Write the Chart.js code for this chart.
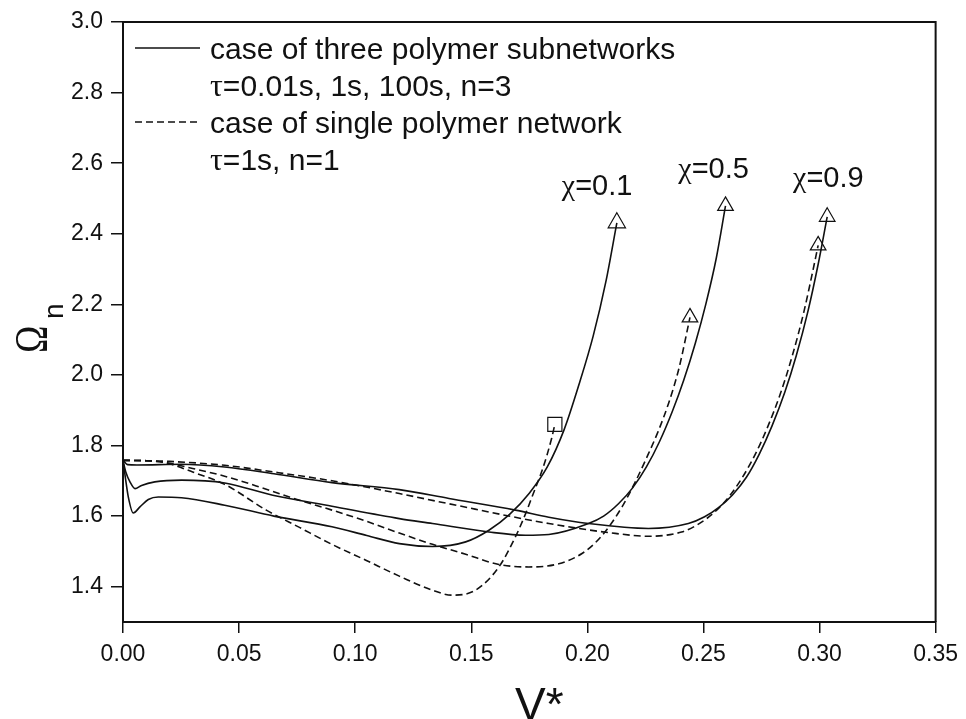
<!DOCTYPE html>
<html>
<head>
<meta charset="utf-8">
<script src="https://cdn.jsdelivr.net/npm/chart.js@4.4.1/dist/chart.umd.min.js"></script>
<style>
  body { margin: 0; background: #fff; }
  canvas { display: block; }
</style>
</head>
<body>
<canvas id="chart" width="966" height="719"></canvas>
<script>
// axis ticks
const xTicks = [0, 0.05, 0.10, 0.15, 0.20, 0.25, 0.30, 0.35];
const yTicks = [1.4, 1.6, 1.8, 2.0, 2.2, 2.4, 2.6, 2.8, 3.0];

// three polymer subnetworks (solid)
const xSolid01 = [0, 0.001, 0.0023, 0.0044, 0.0073, 0.0109, 0.0152, 0.0252, 0.0438, 0.065, 0.09, 0.105, 0.119, 0.1333, 0.1476, 0.1576, 0.1665, 0.175, 0.1828, 0.19, 0.1965, 0.2025, 0.208, 0.2127];
const ySolid01 = [1.758, 1.71, 1.654, 1.609, 1.626, 1.647, 1.654, 1.652, 1.631, 1.60, 1.57, 1.545, 1.522, 1.514, 1.527, 1.56, 1.605, 1.665, 1.74, 1.845, 1.975, 2.11, 2.265, 2.431];

const xSolid05 = [0, 0.0012, 0.003, 0.0052, 0.008, 0.0137, 0.0252, 0.0438, 0.0645, 0.09, 0.119, 0.1333, 0.1576, 0.1734, 0.1834, 0.2005, 0.207, 0.2134, 0.2195, 0.2255, 0.231, 0.2365, 0.2415, 0.2465, 0.251, 0.2555, 0.2595];
const ySolid05 = [1.758, 1.725, 1.697, 1.678, 1.687, 1.697, 1.702, 1.694, 1.659, 1.628, 1.593, 1.579, 1.555, 1.546, 1.548, 1.579, 1.60, 1.635, 1.68, 1.74, 1.81, 1.895, 1.985, 2.09, 2.20, 2.33, 2.479];

const xSolid09 = [0, 0.002, 0.006, 0.0252, 0.0438, 0.065, 0.09, 0.119, 0.1404, 0.169, 0.1834, 0.2005, 0.2263, 0.2435, 0.2505, 0.2565, 0.2625, 0.2685, 0.274, 0.2795, 0.285, 0.29, 0.295, 0.2993, 0.3033];
const ySolid09 = [1.758, 1.746, 1.745, 1.747, 1.739, 1.72, 1.695, 1.675, 1.65, 1.617, 1.597, 1.579, 1.565, 1.579, 1.598, 1.624, 1.66, 1.71, 1.775, 1.855, 1.95, 2.055, 2.18, 2.31, 2.448];

// single polymer network (dashed)
const xDash01 = [0, 0.01, 0.018, 0.03, 0.0438, 0.0617, 0.076, 0.09, 0.1046, 0.119, 0.1333, 0.1418, 0.1518, 0.1619, 0.169, 0.1734, 0.1762, 0.181, 0.1846, 0.186];
const yDash01 = [1.758, 1.757, 1.752, 1.725, 1.69, 1.617, 1.568, 1.52, 1.475, 1.43, 1.39, 1.376, 1.39, 1.456, 1.541, 1.607, 1.655, 1.739, 1.82, 1.86];

const xDash05 = [0, 0.01, 0.018, 0.03, 0.0438, 0.06, 0.076, 0.09, 0.105, 0.119, 0.1333, 0.1476, 0.1619, 0.1748, 0.1877, 0.1977, 0.2035, 0.2092, 0.215, 0.2205, 0.2255, 0.2305, 0.235, 0.2395, 0.2442];
const yDash05 = [1.758, 1.757, 1.752, 1.735, 1.713, 1.68, 1.645, 1.617, 1.585, 1.552, 1.52, 1.492, 1.463, 1.456, 1.465, 1.494, 1.525, 1.569, 1.627, 1.695, 1.765, 1.84, 1.92, 2.02, 2.163];

const xDash09 = [0, 0.01, 0.02, 0.0438, 0.065, 0.09, 0.119, 0.1404, 0.1834, 0.212, 0.2263, 0.2406, 0.248, 0.2549, 0.261, 0.2668, 0.2723, 0.2778, 0.2833, 0.2883, 0.2933, 0.2976, 0.2994];
const yDash09 = [1.758, 1.757, 1.755, 1.744, 1.725, 1.70, 1.664, 1.635, 1.579, 1.551, 1.543, 1.555, 1.578, 1.612, 1.655, 1.71, 1.775, 1.855, 1.95, 2.055, 2.18, 2.31, 2.367];

// curve labels
const chiNames = ['0.1', '0.5', '0.9'];
const chiAt = [[0.189, 2.509], [0.2392, 2.557], [0.2886, 2.532]];

const SANS = '"Liberation Sans", Arial, sans-serif';
const SERIF = '"Liberation Serif", "Times New Roman", serif';
const INK = '#111';

function pts(xs, ys) {
    return xs.map((x, i) => ({ x: x, y: ys[i] }));
}

function curve(xs, ys, dashed, endStyle, endRadius) {
    const last = xs.length - 1;
    return {
        data: pts(xs, ys),
        borderColor: INK,
        borderWidth: 1.6,
        borderDash: dashed ? [7, 4] : [],
        cubicInterpolationMode: 'monotone',
        pointStyle: endStyle,
        pointRadius: ctx => ctx.dataIndex === last ? endRadius : 0,
        pointHoverRadius: ctx => ctx.dataIndex === last ? endRadius : 0,
        pointBorderColor: INK,
        pointBackgroundColor: 'rgba(0,0,0,0)',
        pointBorderWidth: 1.2
    };
}

// draw text pieces one after another, switching font
function mixed(ctx, x, y, parts) {
    parts.forEach(([font, text]) => {
        ctx.font = font;
        ctx.fillText(text, x, y);
        x += ctx.measureText(text).width;
    });
}

const decor = {
    id: 'decor',
    afterDraw(chart) {
        const ctx = chart.ctx;
        const a = chart.chartArea;
        const xs = chart.scales.x, ys = chart.scales.y;
        ctx.save();

        // closing frame (top and right)
        ctx.strokeStyle = INK;
        ctx.lineWidth = 2;
        ctx.beginPath();
        ctx.moveTo(a.left, a.top);
        ctx.lineTo(a.right, a.top);
        ctx.lineTo(a.right, a.bottom);
        ctx.stroke();

        // legend
        ctx.lineWidth = 1.6;
        ctx.beginPath();
        ctx.moveTo(135, 48); ctx.lineTo(200, 48);
        ctx.stroke();
        ctx.setLineDash([7, 4]);
        ctx.beginPath();
        ctx.moveTo(135, 122); ctx.lineTo(200, 122);
        ctx.stroke();
        ctx.setLineDash([]);

        ctx.fillStyle = INK;
        ctx.textBaseline = 'alphabetic';
        ctx.textAlign = 'left';
        const ls = '30px ' + SANS, lg = '32px ' + SERIF;
        mixed(ctx, 210, 59, [[ls, 'case of three polymer subnetworks']]);
        mixed(ctx, 210, 96, [[lg, 'τ'], [ls, '=0.01s, 1s, 100s, n=3']]);
        mixed(ctx, 210, 133, [[ls, 'case of single polymer network']]);
        mixed(ctx, 210, 170, [[lg, 'τ'], [ls, '=1s, n=1']]);

        // chi labels
        chiNames.forEach((name, i) => {
            const px = xs.getPixelForValue(chiAt[i][0]);
            const py = ys.getPixelForValue(chiAt[i][1]);
            mixed(ctx, px, py, [['30px ' + SERIF, 'χ'], ['29px ' + SANS, '=' + name]]);
        });

        // x title
        ctx.font = '46px ' + SANS;
        ctx.fillText('V*', 515, 720);

        // y title, rotated
        ctx.translate(47, 353);
        ctx.rotate(-Math.PI / 2);
        ctx.save();
        ctx.scale(0.8, 1);
        ctx.font = '46px ' + SERIF;
        ctx.fillText('Ω', 0, 0);
        ctx.restore();
        ctx.font = '28px ' + SANS;
        ctx.fillText('n', 34, 16);

        ctx.restore();
    }
};

new Chart(document.getElementById('chart'), {
    type: 'line',
    data: {
        datasets: [
            curve(xSolid01, ySolid01, false, 'triangle', 10),
            curve(xSolid05, ySolid05, false, 'triangle', 9),
            curve(xSolid09, ySolid09, false, 'triangle', 9),
            curve(xDash01, yDash01, true, 'rect', 10),
            curve(xDash05, yDash05, true, 'triangle', 9),
            curve(xDash09, yDash09, true, 'triangle', 9)
        ]
    },
    options: {
        responsive: false,
        animation: false,
        devicePixelRatio: 1,
        events: [],
        layout: { padding: { left: 0, right: 28, top: 22, bottom: 0 } },
        plugins: { legend: { display: false }, tooltip: { enabled: false } },
        scales: {
            x: {
                type: 'linear',
                min: 0,
                max: 0.35,
                afterBuildTicks: s => { s.ticks = xTicks.map(v => ({ value: v })); },
                afterFit: s => { s.height = 97; },
                grid: { drawOnChartArea: false, tickLength: 11, color: INK, lineWidth: 1.5 },
                border: { color: INK, width: 2 },
                ticks: {
                    color: INK,
                    font: { family: SANS, size: 23 },
                    padding: 8,
                    maxRotation: 0,
                    autoSkip: false,
                    callback: v => v.toFixed(2)
                }
            },
            y: {
                type: 'linear',
                min: 1.3,
                max: 3.0,
                afterBuildTicks: s => { s.ticks = yTicks.map(v => ({ value: v })); },
                afterFit: s => { s.width = 123; },
                grid: { drawOnChartArea: false, tickLength: 12, color: INK, lineWidth: 1.5 },
                border: { color: INK, width: 2 },
                ticks: {
                    color: INK,
                    font: { family: SANS, size: 23 },
                    padding: 8,
                    autoSkip: false,
                    callback: v => v.toFixed(1)
                }
            }
        }
    },
    plugins: [decor]
});
</script>
</body>
</html>
